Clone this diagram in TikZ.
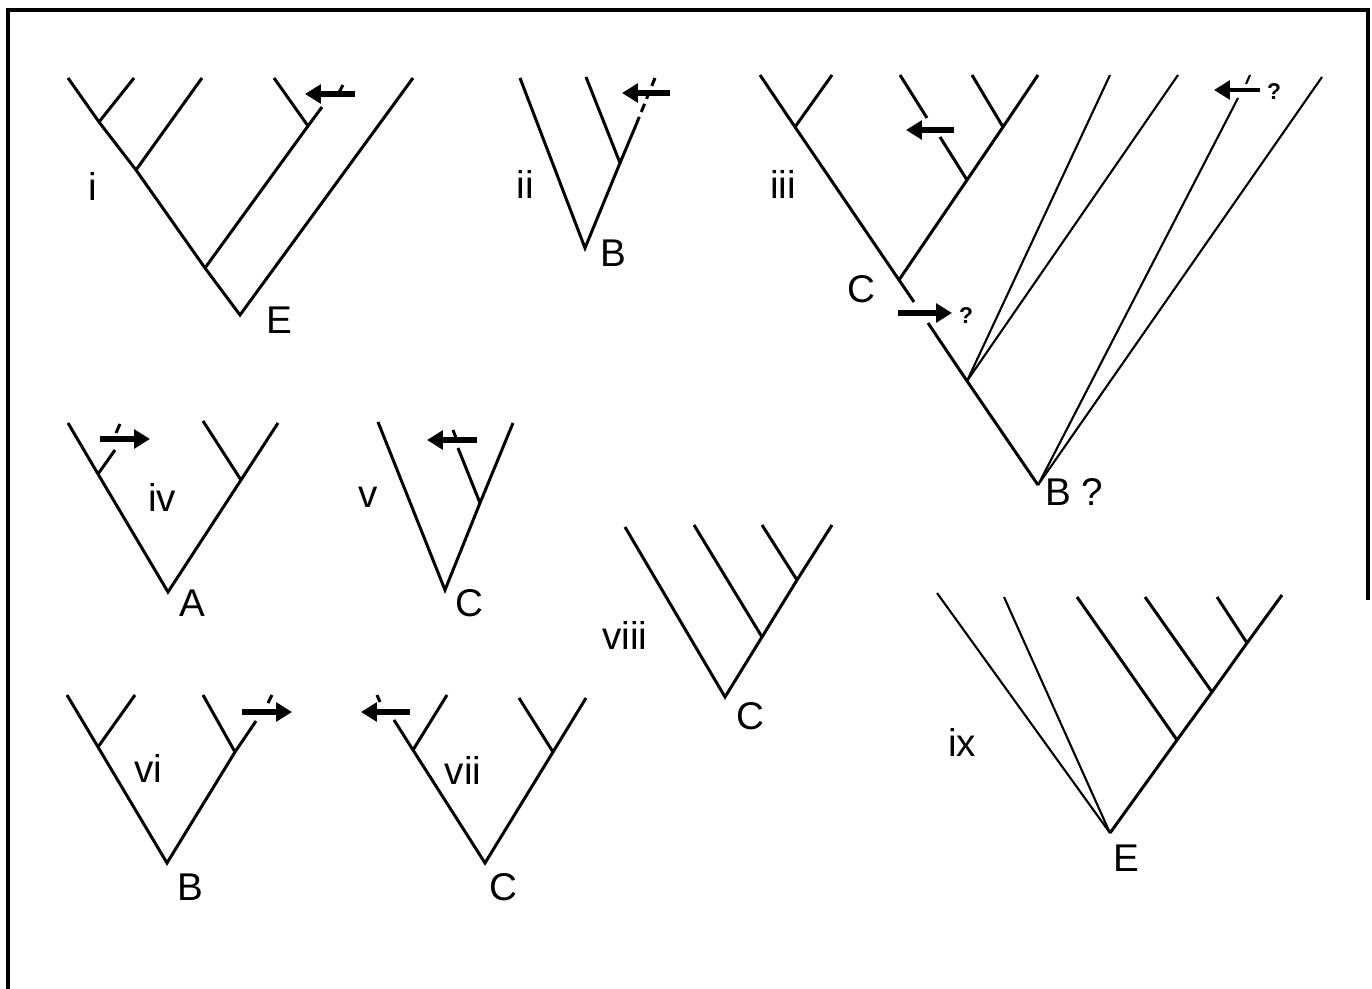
\documentclass[tikz,border=0pt]{standalone}
\usepackage{fontspec}
\setmainfont{Liberation Sans}
\usetikzlibrary{arrows.meta}

\begin{document}
\begin{tikzpicture}[x=0.02cm,y=-0.02cm,
	branch/.style={line width=1.7pt},
	fine/.style={line width=1.2pt},
	migr/.style={line width=3.4pt,-{Triangle[length=9pt,width=10.5pt]}},
	lab/.style={font=\fontsize{22}{22}\selectfont,inner sep=0pt},
	qmark/.style={font=\fontsize{13}{13}\selectfont\bfseries,inner sep=0pt}]
	\useasboundingbox (0,0) rectangle (1372,989);
	\draw [line width=2.2pt] (8,989) -- (8,10) -- (1368,10) -- (1368,600);

	% i
	\coordinate (i0) at (240,315);
	\coordinate (i1) at (205,268);
	\coordinate (i2) at (136,170);
	\coordinate (i3) at (99,122);
	\coordinate (i4) at (308,126);
	\coordinate (ia) at (68,78);
	\coordinate (ib) at (134,78);
	\coordinate (ic) at (202,78);
	\coordinate (id) at (274,78);
	\coordinate (ie) at (322,107);
	\coordinate (if) at (413,78);
	\draw [branch] (ia) -- (i3) -- (i2) -- (i1) -- (i0) -- (if);
	\draw [branch] (i3) -- (ib);
	\draw [branch] (i2) -- (ic);
	\draw [branch] (i1) -- (i4) -- (ie);
	\draw [branch] (i4) -- (id);
	\draw [branch] (337,96) -- (343,85);
	\draw [migr] (355,94) -- (305,94);
	\node [lab] (li) at (93,187) {i};
	\node [lab] (Ei) at (279,320) {E};

	% ii
	\coordinate (ii0) at (585,248);
	\coordinate (ii1) at (620,163);
	\coordinate (iia) at (520,78);
	\coordinate (iib) at (586,77);
	\coordinate (iid) at (636,125);
	\coordinate (iic) at (655,78);
	\draw [branch] (iia) -- (ii0) -- (ii1) -- (iib);
	\draw [branch] (ii1) -- (iid);
	\draw [branch,dash pattern=on 5pt off 3pt] (iid) -- (iic);
	\draw [migr] (670,93) -- (622,93);
	\node [lab] (lii) at (525,185) {ii};
	\node [lab] (Bii) at (613,253) {B};

	% iii
	\coordinate (r0) at (1038,485);
	\coordinate (r5) at (967,381);
	\coordinate (r2) at (899,280);
	\coordinate (r1) at (795,127);
	\coordinate (r3) at (967,180);
	\coordinate (r4) at (1003,127);
	\coordinate (ra) at (760,75);
	\coordinate (rb) at (832,75);
	\coordinate (rc) at (900,75);
	\coordinate (rd) at (972,75);
	\coordinate (re) at (1038,75);
	\coordinate (rf) at (1110,75);
	\coordinate (rg) at (1178,75);
	\coordinate (rh) at (1238,98);
	\coordinate (rk) at (1322,77);
	\draw [branch] (ra) -- (r1) -- (r2) -- (914,302);
	\draw [branch] (928,323) -- (r5) -- (r0);
	\draw [branch] (r1) -- (rb);
	\draw [branch] (r2) -- (r3) -- (r4) -- (re);
	\draw [branch] (r4) -- (rd);
	\draw [branch] (r3) -- (940,137);
	\draw [branch] (927,118) -- (rc);
	\draw [fine] (r5) -- (rf);
	\draw [fine] (r5) -- (rg);
	\draw [fine] (r0) -- (rh);
	\draw [fine] (1246,84) -- (1250,75);
	\draw [fine] (r0) -- (rk);
	\draw [migr] (954,130) -- (906,130);
	\draw [migr] (898,313) -- (952,313);
	\draw [migr,line width=2.2pt] (1260,90) -- (1214,90);
	\node [qmark] (q1) at (966,316) {?};
	\node [qmark] (q2) at (1274,92) {?};
	\node [lab] (liii) at (783,185) {iii};
	\node [lab] (Ciii) at (861,289) {C};
	\node [lab] (Biii) at (1074,492) {B ?};

	% iv
	\coordinate (a0) at (168,592);
	\coordinate (a1) at (98,474);
	\coordinate (a2) at (241,480);
	\coordinate (aa) at (68,423);
	\coordinate (ab) at (115,450);
	\coordinate (ac) at (203,421);
	\coordinate (ad) at (278,423);
	\draw [branch] (aa) -- (a1) -- (a0) -- (a2) -- (ad);
	\draw [branch] (a1) -- (ab);
	\draw [branch] (a2) -- (ac);
	\draw [branch] (116,433) -- (120,424);
	\draw [migr] (100,439) -- (150,439);
	\node [lab] (liv) at (162,497) {iv};
	\node [lab] (Aiv) at (192,603) {A};

	% v
	\coordinate (v0) at (445,590);
	\coordinate (v1) at (480,503);
	\coordinate (va) at (378,422);
	\coordinate (vb) at (458,448);
	\coordinate (vc) at (513,423);
	\draw [branch] (va) -- (v0) -- (v1) -- (vc);
	\draw [branch] (v1) -- (vb);
	\draw [branch] (453,430) -- (456,438);
	\draw [migr] (477,440) -- (427,440);
	\node [lab] (lv) at (368,497) {v};
	\node [lab] (Cv) at (469,603) {C};

	% vi
	\coordinate (b0) at (167,863);
	\coordinate (b1) at (98,747);
	\coordinate (b2) at (235,752);
	\coordinate (ba) at (67,695);
	\coordinate (bb) at (135,695);
	\coordinate (bc) at (203,695);
	\coordinate (bd) at (256,721);
	\draw [branch] (ba) -- (b1) -- (b0) -- (b2) -- (bd);
	\draw [branch] (b1) -- (bb);
	\draw [branch] (b2) -- (bc);
	\draw [branch] (268,703) -- (272,695);
	\draw [migr] (242,712) -- (292,712);
	\node [lab] (lvi) at (148,768) {vi};
	\node [lab] (Bvi) at (190,887) {B};

	% vii
	\coordinate (c0) at (485,863);
	\coordinate (c1) at (413,750);
	\coordinate (c2) at (553,752);
	\coordinate (ca) at (394,720);
	\coordinate (cb) at (447,695);
	\coordinate (cc) at (519,698);
	\coordinate (cd) at (586,698);
	\draw [branch] (ca) -- (c1) -- (c0) -- (c2) -- (cd);
	\draw [branch] (c1) -- (cb);
	\draw [branch] (c2) -- (cc);
	\draw [branch] (377,695) -- (380,702);
	\draw [migr] (410,712) -- (361,712);
	\node [lab] (lvii) at (463,770) {vii};
	\node [lab] (Cvii) at (503,887) {C};

	% viii
	\coordinate (d0) at (725,697);
	\coordinate (d1) at (762,637);
	\coordinate (d2) at (797,580);
	\coordinate (da) at (625,527);
	\coordinate (db) at (694,525);
	\coordinate (dc) at (762,525);
	\coordinate (dd) at (832,525);
	\draw [branch] (da) -- (d0) -- (d1) -- (d2) -- (dd);
	\draw [branch] (d1) -- (db);
	\draw [branch] (d2) -- (dc);
	\node [lab] (lviii) at (625,635) {viii};
	\node [lab] (Cviii) at (750,716) {C};

	% ix
	\coordinate (e0) at (1110,833);
	\coordinate (e1) at (1177,740);
	\coordinate (e2) at (1212,692);
	\coordinate (e3) at (1247,643);
	\coordinate (ea) at (937,593);
	\coordinate (eb) at (1004,597);
	\coordinate (ec) at (1077,597);
	\coordinate (ed) at (1145,597);
	\coordinate (ee) at (1217,597);
	\coordinate (ef) at (1282,595);
	\draw [fine] (e0) -- (ea);
	\draw [fine] (e0) -- (eb);
	\draw [branch] (e0) -- (e1) -- (e2) -- (e3) -- (ef);
	\draw [branch] (e1) -- (ec);
	\draw [branch] (e2) -- (ed);
	\draw [branch] (e3) -- (ee);
	\node [lab] (lix) at (962,742) {ix};
	\node [lab] (Eix) at (1126,858) {E};
\end{tikzpicture}
\end{document}
